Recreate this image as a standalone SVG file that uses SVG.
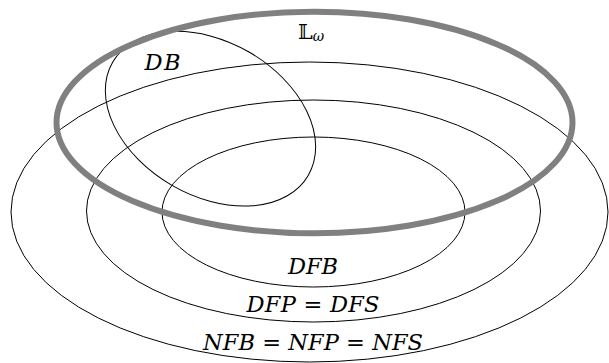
<svg xmlns="http://www.w3.org/2000/svg" width="609" height="363" viewBox="0 0 609 363">
<style>
.set{fill:none;stroke:#000;stroke-width:1}
.lw{fill:none;stroke:#808080;stroke-width:6}
.lbl{font-family:'DejaVu Serif',serif;font-style:italic;font-size:22.5px;fill:#000;text-anchor:middle}
.up{font-style:normal}
</style>
<rect width="609" height="363" fill="#fff"/>
<g id="NFB">
<ellipse class="set" cx="309.5" cy="212" rx="298.5" ry="150"/>
<text class="lbl" x="313" y="349.5" textLength="220">NFB <tspan class="up">=</tspan> NFP <tspan class="up">=</tspan> NFS</text>
</g>
<g id="DFP">
<ellipse class="set" cx="313.5" cy="211" rx="227" ry="111"/>
<text class="lbl" x="313" y="311.5" textLength="133">DFP <tspan class="up">=</tspan> DFS</text>
</g>
<g id="DFB">
<ellipse class="set" cx="313.5" cy="212" rx="151.5" ry="75"/>
<text class="lbl" x="313" y="273.5" textLength="50">DFB</text>
</g>
<g id="DB">
<ellipse class="set" cx="210.5" cy="118.7" rx="113" ry="77" transform="rotate(30 210.5 118.7)"/>
<text class="lbl" x="162.5" y="70" textLength="36">DB</text>
</g>
<g id="Lomega">
<ellipse class="lw" cx="314.5" cy="122.5" rx="258" ry="110.8"/>
<text x="298" y="38.5" fill="#000" style="font-family:'DejaVu Serif','DejaVu Sans',serif;font-size:21px">𝕃<tspan dy="2" fill="#000" style="font-family:'DejaVu Serif',serif;font-style:italic;font-size:14px">ω</tspan></text>
</g>
</svg>
